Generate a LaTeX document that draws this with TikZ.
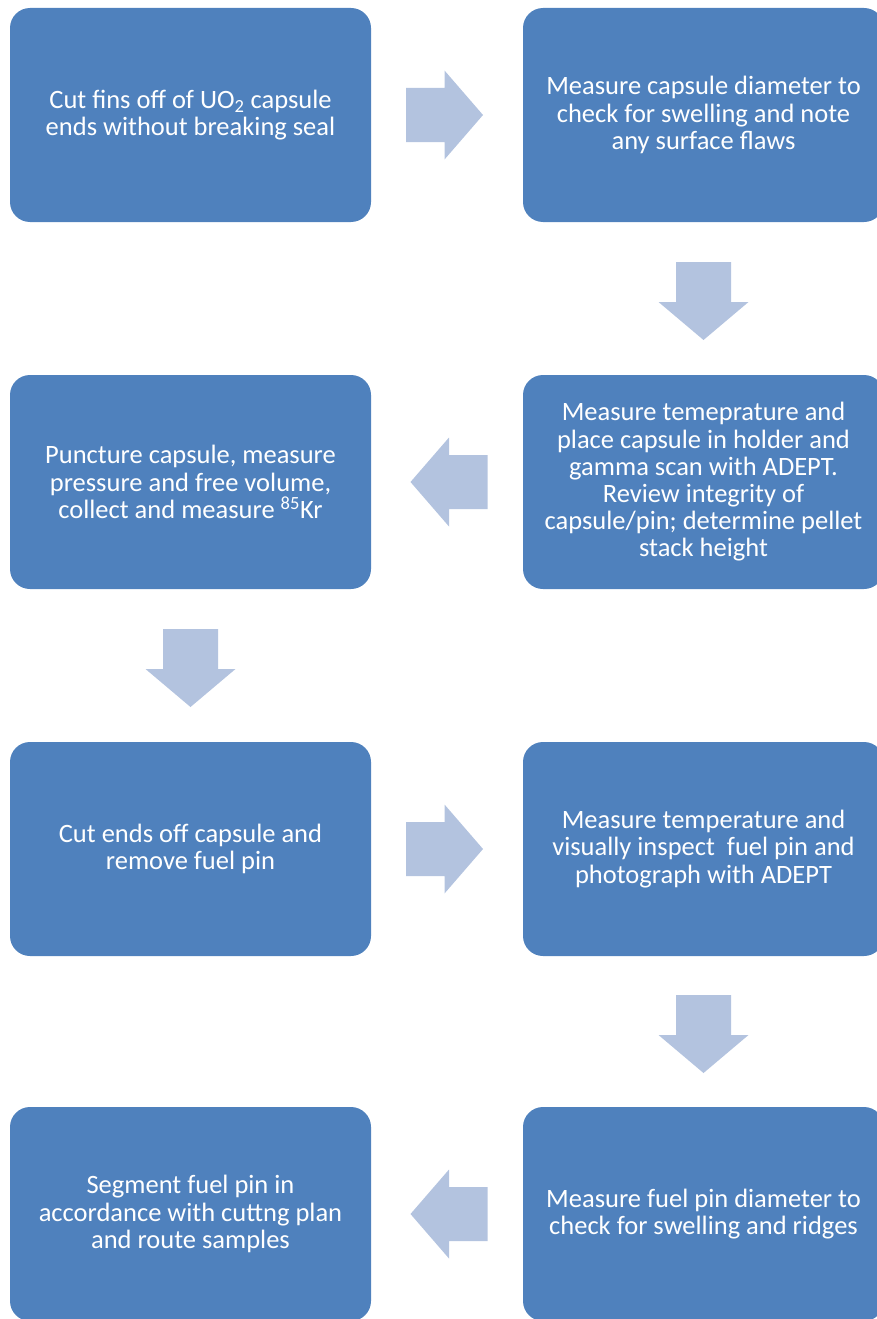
\documentclass[tikz,border=0pt]{standalone}
\usepackage{fontspec}
\setmainfont{Carlito}
\usetikzlibrary{calc}
\definecolor{boxblue}{HTML}{4F81BD}
\definecolor{arrowblue}{HTML}{B3C3DF}
\tikzset{
  x=1pt, y=1pt,
  stepbox/.style={draw=none, fill=boxblue, rounded corners=20pt, minimum width=361pt,
    minimum height=214pt, inner sep=0pt, text=white, align=center,
    font=\fontsize{26.5}{27.2}\selectfont},
  blockarrow/.style={fill=arrowblue, draw=none}
}
\newcommand{\harrow}[2]{% center, direction (1 right, -1 left)
  \begin{scope}[shift={#1}, xscale=#2]
    \path[blockarrow] (-38.5,27) -- (0,27) -- (0,44.5) -- (38.5,0) -- (0,-44.5) -- (0,-27) -- (-38.5,-27) -- cycle;
  \end{scope}}
\newcommand{\varrow}[1]{%
  \begin{scope}[shift={#1}]
    \path[blockarrow] (-27.5,39) -- (27.5,39) -- (27.5,-1) -- (45,-1) -- (0,-39) -- (-45,-1) -- (-27.5,-1) -- cycle;
  \end{scope}}
\begin{document}
\begin{tikzpicture}
\useasboundingbox (0,0) rectangle (877,-1319);
\node[stepbox] (b1) at (190.5,-115) {Cut fins off of UO\textsubscript{2} capsule\\ends without breaking seal};
\node[stepbox] (b2) at (703.5,-115) {Measure capsule diameter to\\check for swelling and note\\any surface flaws};
\node[stepbox] (b3) at (703.5,-482) {Measure temeprature and\\place capsule in holder and\\gamma scan with ADEPT.\\Review integrity of\\capsule/pin; determine pellet\\stack height};
\node[stepbox] (b4) at (190.5,-482) {Puncture capsule, measure\\pressure and free volume,\\collect and measure \textsuperscript{85}Kr};
\node[stepbox] (b5) at (190.5,-849) {Cut ends off capsule and\\remove fuel pin};
\node[stepbox] (b6) at (703.5,-849) {Measure temperature and\\visually inspect\ \ fuel pin and\\photograph with ADEPT};
\node[stepbox] (b7) at (703.5,-1214) {Measure fuel pin diameter to\\check for swelling and ridges};
\node[stepbox] (b8) at (190.5,-1214) {Segment fuel pin in\\accordance with cuttng plan\\and route samples};
\harrow{($(b1.east)!0.5!(b2.west)+(-2.5,0)$)}{1}
\varrow{($(b2.south)!0.5!(b3.north)+(0,-2.5)$)}
\harrow{($(b3.west)!0.5!(b4.east)+(2,0)$)}{-1}
\varrow{($(b4.south)!0.5!(b5.north)+(0,-2.5)$)}
\harrow{($(b5.east)!0.5!(b6.west)+(-2.5,0)$)}{1}
\varrow{($(b6.south)!0.5!(b7.north)+(0,-2.5)$)}
\harrow{($(b7.west)!0.5!(b8.east)+(2,0)$)}{-1}
\end{tikzpicture}
\end{document}
